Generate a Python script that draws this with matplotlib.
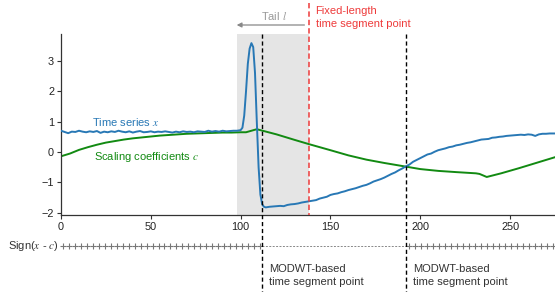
import numpy as np
import matplotlib
matplotlib.use("Agg")
import matplotlib.pyplot as plt
from matplotlib.transforms import blended_transform_factory

plt.rcParams['font.family'] = ['Liberation Sans', 'DejaVu Sans']
plt.rcParams['mathtext.fontset'] = 'stix'

# ---- data ----
x_t = [0, 2, 4, 6, 8, 10, 12, 14, 16, 18, 20, 22, 24, 26, 28, 30, 32, 34, 36, 38,
       40, 42, 44, 46, 48, 50, 52, 54, 56, 58, 60, 62, 64, 66, 68, 70, 72, 74, 76, 78,
       80, 82, 84, 86, 88, 90, 92, 94, 96, 98, 100,
       101, 102, 103, 104, 105, 106, 107, 108, 109, 110, 111, 112, 113, 114,
       116, 118, 120, 122, 124, 126, 128, 130, 132, 134, 136, 138, 140, 142, 144, 146,
       148, 150, 152, 154, 156, 158, 160, 162, 164, 166, 168, 170, 172, 174, 176, 178,
       180, 182, 184, 186, 188, 190, 192, 194, 196, 198, 200, 202, 204, 206, 208, 210,
       212, 214, 216, 218, 220, 222, 224, 226, 228, 230, 232, 234, 236, 238, 240, 242,
       244, 246, 248, 250, 252, 254, 256, 258, 260, 262, 264, 266, 268, 270, 272, 274, 275]
x_series = [0.70, 0.66, 0.62, 0.67, 0.66, 0.70, 0.67, 0.65, 0.68, 0.66, 0.69, 0.63, 0.67, 0.65, 0.68,
            0.66, 0.70, 0.67, 0.65, 0.68, 0.64, 0.67, 0.69, 0.65, 0.66, 0.68, 0.65, 0.67, 0.66, 0.68,
            0.66, 0.64, 0.67, 0.65, 0.68, 0.66, 0.67, 0.65, 0.68, 0.67, 0.66, 0.70, 0.67, 0.69, 0.67,
            0.70, 0.68, 0.69, 0.70, 0.70, 0.72,
            0.80, 1.20, 2.00, 2.90, 3.40, 3.58, 3.45, 2.60, 1.00, -0.50, -1.40, -1.72, -1.80, -1.82,
            -1.80, -1.79, -1.78, -1.77, -1.78, -1.74, -1.72, -1.71, -1.69, -1.66, -1.64, -1.62, -1.60,
            -1.58, -1.53, -1.50, -1.47, -1.41, -1.38, -1.36, -1.32, -1.29, -1.25, -1.22, -1.19, -1.15,
            -1.11, -1.08, -1.03, -0.97, -0.93, -0.89, -0.84, -0.78, -0.72, -0.67, -0.60, -0.54, -0.47,
            -0.41, -0.32, -0.26, -0.20, -0.14, -0.08, -0.05, 0.01, 0.06, 0.09, 0.12, 0.16, 0.18, 0.22,
            0.24, 0.27, 0.30, 0.32, 0.35, 0.38, 0.41, 0.42, 0.43, 0.47, 0.48, 0.50, 0.51, 0.53, 0.54,
            0.55, 0.56, 0.57, 0.56, 0.58, 0.57, 0.53, 0.58, 0.60, 0.60, 0.61, 0.61, 0.61]

t_c = [0, 5, 10, 15, 20, 25, 30, 35, 40, 45, 50, 55, 60, 65, 70, 75, 80, 85, 90, 95, 100, 103,
       106, 109, 120, 130, 138, 150, 160, 170, 180, 192, 200, 210, 220, 231, 233, 237, 245, 255,
       265, 275]
c_series = [-0.14, -0.05, 0.07, 0.16, 0.24, 0.31, 0.36, 0.41, 0.45, 0.48, 0.51, 0.54, 0.56, 0.58,
            0.60, 0.61, 0.62, 0.63, 0.64, 0.64, 0.65, 0.65, 0.70, 0.75, 0.58, 0.40, 0.26, 0.06,
            -0.11, -0.25, -0.36, -0.48, -0.56, -0.62, -0.66, -0.70, -0.72, -0.82, -0.70, -0.53,
            -0.35, -0.17]

tail_start, tail_end = 98, 138
fixed_point = 138
modwt_points = [112, 192]
x_ticks = [0, 50, 100, 150, 200, 250]
y_ticks = [-2, -1, 0, 1, 2, 3]
sign_step = 3.33

blue = '#2878b5'
green = '#128a12'
red = '#ee3b3b'

# ---- figure ----
fig = plt.figure(figsize=(5.55, 2.92), dpi=100)
ax = fig.add_axes([61/555, 1 - 215/292, 1 - 61/555, (215 - 34)/292])

ax.axvspan(tail_start, tail_end, color='#e5e5e5', lw=0, zorder=0)
ax.plot(x_t, x_series, color=blue, lw=1.4, zorder=3)
ax.plot(t_c, c_series, color=green, lw=1.4, zorder=2)

ax.set_xlim(0, 275)
ax.set_ylim(-2.07, 3.88)
ax.set_xticks(x_ticks)
ax.set_yticks(y_ticks)
ax.set_yticklabels([str(v).replace('-', '\u2212') for v in y_ticks])
for s in ['top', 'right']:
    ax.spines[s].set_visible(False)
for s in ['left', 'bottom']:
    ax.spines[s].set_color('#333333')
    ax.spines[s].set_linewidth(0.9)
ax.tick_params(labelsize=7.8, length=3, width=0.8, color='#333333', labelcolor='#222222', pad=2)

ax.text(17, 0.99, 'Time series $x$', color=blue, fontsize=8, va='center', ha='left')
ax.text(18.5, -0.15, 'Scaling coefficients $c$', color=green, fontsize=8, va='center', ha='left')

tr = blended_transform_factory(ax.transData, fig.transFigure)
ax_top = 1 - 34/292
ax_bot = 1 - 215/292

for p in modwt_points:
    ax.plot([p, p], [ax_top, 0], transform=tr, color='black', lw=1.0,
            dashes=(3, 2), clip_on=False, zorder=5)
ax.plot([fixed_point, fixed_point], [0.99, ax_bot], transform=tr, color=red, lw=1.1,
        dashes=(3.5, 2), clip_on=False, zorder=5)

# Tail arrow
ax.annotate('', xy=(97.8, 1 - 25/292), xytext=(135.5, 1 - 25/292), xycoords=tr, textcoords=tr,
            arrowprops=dict(arrowstyle='-|>', color='#888888', lw=0.9, mutation_scale=7,
                            shrinkA=0, shrinkB=0), annotation_clip=False)
ax.text(118.5, 1 - 16/292, 'Tail $l$', transform=tr, color='#999999', fontsize=8,
        ha='center', va='center')
ax.text(141.7, 1 - 17.5/292, 'Fixed-length\ntime segment point', transform=tr, color=red,
        fontsize=8, ha='left', va='center', linespacing=1.3)

for p in modwt_points:
    ax.text(p + 4, 1 - 275.5/292, 'MODWT-based\ntime segment point', transform=tr,
            color='#333333', fontsize=8, ha='left', va='center', linespacing=1.3)

# Sign row
sign_y = 1 - 246/292
fig.text(8/555, sign_y, 'Sign($x$ - $c$)', fontsize=8, color='#333333', ha='left', va='center')
pos1 = np.arange(1.0, modwt_points[0] - 1, sign_step)
pos2 = np.arange(modwt_points[1] + 1.8, 276, sign_step)
for pos in (pos1, pos2):
    ax.plot(pos, np.full(len(pos), sign_y), transform=tr, ls='none', marker='+', ms=4.2,
            mew=0.8, color='#777777', clip_on=False)
ax.plot([modwt_points[0], modwt_points[1]], [sign_y, sign_y], transform=tr, color='#888888',
        lw=0.7, dashes=(2, 1.5), clip_on=False)

fig.savefig('out.png', dpi=100)
